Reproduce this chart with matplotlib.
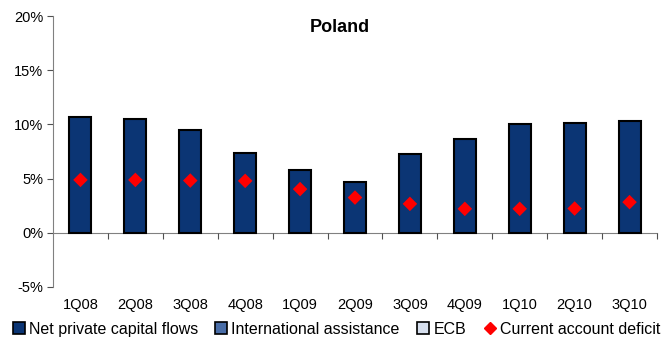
import matplotlib
matplotlib.use("Agg")
import matplotlib.pyplot as plt
from matplotlib.patches import Patch
from matplotlib.lines import Line2D
import numpy as np

plt.rcParams['font.family'] = ['Liberation Sans', 'DejaVu Sans']

quarters = ["1Q08", "2Q08", "3Q08", "4Q08", "1Q09", "2Q09", "3Q09", "4Q09", "1Q10", "2Q10", "3Q10"]
net_private_flows = [10.7, 10.5, 9.45, 7.4, 5.8, 4.73, 7.31, 8.69, 10.02, 10.11, 10.35]
international_assistance = [0, 0, 0, 0, 0, 0, 0, 0, 0, 0, 0]
ecb = [0, 0, 0, 0, 0, 0, 0, 0, 0, 0, 0]
current_account_deficit = [4.88, 4.88, 4.82, 4.79, 4.03, 3.25, 2.67, 2.21, 2.21, 2.24, 2.83]

c_net = "#0b3574"
c_intl = "#4a6ea8"
c_ecb = "#d6dfee"
c_cad = "#ff0000"

fig = plt.figure(figsize=(6.62, 3.40), dpi=100)
ax = fig.add_axes([53 / 662, 53 / 340, 604 / 662, 271 / 340])

x = np.arange(len(quarters))
w = 0.4
net = np.array(net_private_flows)
intl = np.array(international_assistance)
ec = np.array(ecb)

ax.bar(x, net, width=w, color=c_net, edgecolor="black", linewidth=1.5, zorder=2)
for vals, base, col in ((intl, net, c_intl), (ec, net + intl, c_ecb)):
    m = vals != 0
    if m.any():
        ax.bar(x[m], vals[m], bottom=base[m], width=w, color=col,
               edgecolor="black", linewidth=1.5, zorder=2)

ax.scatter(x, current_account_deficit, marker="D", s=55, color=c_cad,
           edgecolors="none", zorder=3)

ax.set_xlim(-0.5, len(quarters) - 0.5)
ax.set_ylim(-5, 20)
ax.set_yticks([-5, 0, 5, 10, 15, 20])
ax.set_yticklabels([f"{v}%" for v in [-5, 0, 5, 10, 15, 20]], fontsize=10.5)

for s in ("top", "right"):
    ax.spines[s].set_visible(False)
ax.spines["left"].set_color("#808080")
ax.spines["bottom"].set_position(("data", 0))
ax.spines["bottom"].set_color("#808080")
ax.spines["bottom"].set_zorder(1)

ax.set_xticks(np.arange(len(quarters)) + 0.5)
ax.set_xticklabels([])
ax.tick_params(axis="x", direction="out", length=4, color="#505050")
ax.tick_params(axis="y", direction="out", length=4, color="#505050", pad=3)

for xi, q in zip(x, quarters):
    ax.text(xi, -0.065, q, transform=ax.get_xaxis_transform(),
            ha="center", va="center", fontsize=10.5)

ax.text(0.475, 0.958, "Poland", transform=ax.transAxes, ha="center", va="center",
        fontsize=13, fontweight="bold")

handles = [
    Patch(facecolor=c_net, edgecolor="black", linewidth=1.2),
    Patch(facecolor=c_intl, edgecolor="black", linewidth=1.2),
    Patch(facecolor=c_ecb, edgecolor="black", linewidth=1.2),
    Line2D([], [], marker="D", color=c_cad, linestyle="none", markersize=6.5),
]
labels = ["Net private capital flows", "International assistance", "ECB",
          "Current account deficit"]
fig.legend(handles, labels, loc="center", bbox_to_anchor=(0.508, 0.032), ncol=4,
           frameon=False, fontsize=11.5, handlelength=0.75, handleheight=0.75,
           handletextpad=0.25, columnspacing=1.1, borderaxespad=0, borderpad=0)

fig.savefig("out.png", dpi=100)
